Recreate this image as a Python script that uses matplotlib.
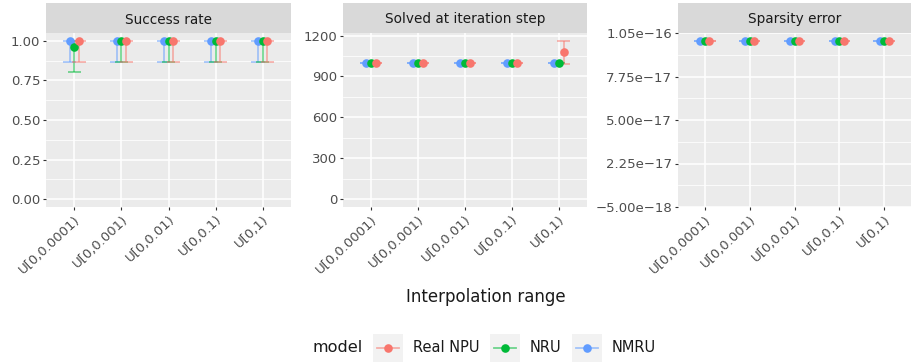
import matplotlib
matplotlib.use("Agg")
import matplotlib.pyplot as plt
import matplotlib.transforms as mtransforms
from matplotlib.patches import Rectangle
from matplotlib.lines import Line2D

# ---- data -------------------------------------------------------------
categories = ["U[0,0.0001)", "U[0,0.001)", "U[0,0.01)", "U[0,0.1)", "U[0,1)"]
models = ["Real NPU", "NRU", "NMRU"]
colors = {"Real NPU": "#F8766D", "NRU": "#00BA38", "NMRU": "#619CFF"}

success_mean = {"Real NPU": [1.0, 1.0, 1.0, 1.0, 1.0],
                "NRU": [0.96, 1.0, 1.0, 1.0, 1.0],
                "NMRU": [1.0, 1.0, 1.0, 1.0, 1.0]}
success_lower = {"Real NPU": [0.865, 0.865, 0.865, 0.865, 0.865],
                 "NRU": [0.806, 0.865, 0.865, 0.865, 0.865],
                 "NMRU": [0.865, 0.865, 0.865, 0.865, 0.865]}
success_upper = {"Real NPU": [1.0, 1.0, 1.0, 1.0, 1.0],
                 "NRU": [1.0, 1.0, 1.0, 1.0, 1.0],
                 "NMRU": [1.0, 1.0, 1.0, 1.0, 1.0]}

solved_mean = {"Real NPU": [1000, 1000, 1000, 1000, 1081],
               "NRU": [1000, 1000, 1000, 1000, 1000],
               "NMRU": [1000, 1000, 1000, 1000, 1000]}
solved_lower = {"Real NPU": [1000, 1000, 1000, 1000, 995],
                "NRU": [1000, 1000, 1000, 1000, 1000],
                "NMRU": [1000, 1000, 1000, 1000, 1000]}
solved_upper = {"Real NPU": [1000, 1000, 1000, 1000, 1161],
                "NRU": [1000, 1000, 1000, 1000, 1000],
                "NMRU": [1000, 1000, 1000, 1000, 1000]}

sparsity_mean = {"Real NPU": [1e-16, 1e-16, 1e-16, 1e-16, 1e-16],
                 "NRU": [1e-16, 1e-16, 1e-16, 1e-16, 1e-16],
                 "NMRU": [1e-16, 1e-16, 1e-16, 1e-16, 1e-16]}
sparsity_lower = sparsity_mean
sparsity_upper = sparsity_mean

success_ticks = [0.0, 0.25, 0.5, 0.75, 1.0]
solved_ticks = [0, 300, 600, 900, 1200]
sparsity_ticks = [-5.0e-18, 2.25e-17, 5.0e-17, 7.75e-17, 1.05e-16]

panel_titles = ["Success rate", "Solved at iteration step", "Sparsity error"]
x_title = "Interpolation range"
legend_title = "model"

# ---- styling ----------------------------------------------------------
W, H = 914, 362
DPI = 100
FONT = "DejaVu Sans"
plt.rcParams["font.family"] = [FONT]

dodge = {"NMRU": -0.1, "NRU": 0.0, "Real NPU": 0.1}
draw_order = ["NMRU", "NRU", "Real NPU"]
cap_half = 0.14
bar_alpha = 0.55
bar_lw = 1.25
dot_size = 6.2

fig = plt.figure(figsize=(W / DPI, H / DPI), dpi=DPI)
fig.patch.set_facecolor("white")


def px_rect(left, top, right, bottom):
    return [left / W, 1 - bottom / H, (right - left) / W, (bottom - top) / H]


panel_px = [(46, 291), (343, 587), (678, 911)]
panel_top, panel_bottom = 33, 207
strip_top = 3


def fmt_sci(v):
    s = "%.2e" % v
    mant, exp = s.split("e")
    sign = "\u2212" if exp[0] == "-" else ""
    return ("\u2212" if mant.startswith("-") else "") + mant.lstrip("-") + "e" + sign + exp[1:]


panels = [
    (success_mean, success_lower, success_upper, success_ticks,
     ["%.2f" % t for t in success_ticks]),
    (solved_mean, solved_lower, solved_upper, solved_ticks,
     ["%d" % t for t in solved_ticks]),
    (sparsity_mean, sparsity_lower, sparsity_upper, sparsity_ticks,
     [fmt_sci(t) for t in sparsity_ticks]),
]

xpos = list(range(len(categories)))

for (l, r), title, (mean, lower, upper, ticks, tlabels) in zip(panel_px, panel_titles, panels):
    ax = fig.add_axes(px_rect(l, panel_top, r, panel_bottom))
    ax.set_facecolor("#EBEBEB")
    for s in ax.spines.values():
        s.set_visible(False)

    # error bars first, then points on top
    for m in draw_order:
        xs = [x + dodge[m] for x in xpos]
        ax.vlines(xs, lower[m], upper[m], colors=colors[m], alpha=bar_alpha,
                  linewidth=bar_lw, zorder=3)
        ax.hlines(lower[m], [x - cap_half for x in xs], [x + cap_half for x in xs],
                  colors=colors[m], alpha=bar_alpha, linewidth=bar_lw, zorder=3)
        ax.hlines(upper[m], [x - cap_half for x in xs], [x + cap_half for x in xs],
                  colors=colors[m], alpha=bar_alpha, linewidth=bar_lw, zorder=3)
    for m in draw_order:
        xs = [x + dodge[m] for x in xpos]
        ax.plot(xs, mean[m], linestyle="none", marker="o", markersize=dot_size,
                markeredgewidth=0, color=colors[m], zorder=4)

    # y range: data plus zero, expanded by 5 %
    lo = min(0.0, min(min(v) for v in lower.values()))
    hi = max(max(v) for v in upper.values())
    span = hi - lo
    ax.set_ylim(lo - 0.05 * span, hi + 0.05 * span)
    ax.set_xlim(-0.6, len(categories) - 0.4)

    ax.set_yticks(ticks)
    ax.set_yticklabels(tlabels)
    minor = [(a + b) / 2 for a, b in zip(ticks[:-1], ticks[1:])]
    ax.set_yticks(minor, minor=True)
    ax.set_xticks(xpos)
    ax.set_xticklabels(categories, rotation=43, ha="right", va="top",
                       rotation_mode="anchor")
    offset = mtransforms.ScaledTranslation(10 / DPI, -5 / DPI, fig.dpi_scale_trans)
    for lab in ax.get_xticklabels():
        lab.set_transform(lab.get_transform() + offset)

    ax.grid(which="major", color="white", linewidth=1.1, zorder=0)
    ax.grid(which="minor", axis="y", color="white", linewidth=0.55, zorder=0)
    ax.set_axisbelow(True)
    ax.tick_params(which="major", length=2.2, width=0.8, color="#333333",
                   labelcolor="#4D4D4D", labelsize=9.5, pad=2)
    ax.tick_params(which="minor", length=0)

    sax = fig.add_axes(px_rect(l, strip_top, r, panel_top))
    sax.set_facecolor("#D9D9D9")
    sax.set_xticks([])
    sax.set_yticks([])
    for s in sax.spines.values():
        s.set_visible(False)
    sax.text(0.5, 0.5, title, ha="center", va="center_baseline",
             fontsize=9.8, color="#1A1A1A", transform=sax.transAxes)

# shared x-axis title
fig.text(486 / W, 1 - 301.5 / H, x_title, ha="center", va="baseline",
         fontsize=12, color="#1A1A1A")

# legend strip along the bottom
lax = fig.add_axes([0, 0, 1, 45 / H])
lax.set_xlim(0, W)
lax.set_ylim(H, H - 45)
lax.axis("off")
yc = 348
lax.text(313, yc, legend_title, ha="left", va="center", fontsize=11.6, color="#1A1A1A")
key_left = {"Real NPU": 373, "NRU": 490, "NMRU": 572}
for m in models:
    kx = key_left[m]
    lax.add_patch(Rectangle((kx, yc - 14), 30, 28, facecolor="#F2F2F2",
                            edgecolor="none"))
    lax.add_line(Line2D([kx + 4, kx + 26], [yc, yc], color=colors[m],
                        alpha=bar_alpha, linewidth=1.3))
    lax.plot([kx + 15], [yc], marker="o", markersize=dot_size, markeredgewidth=0,
             color=colors[m])
    lax.text(kx + 40, yc, m, ha="left", va="center", fontsize=10.5,
             color="#1A1A1A")

fig.savefig("out.png", dpi=DPI)
